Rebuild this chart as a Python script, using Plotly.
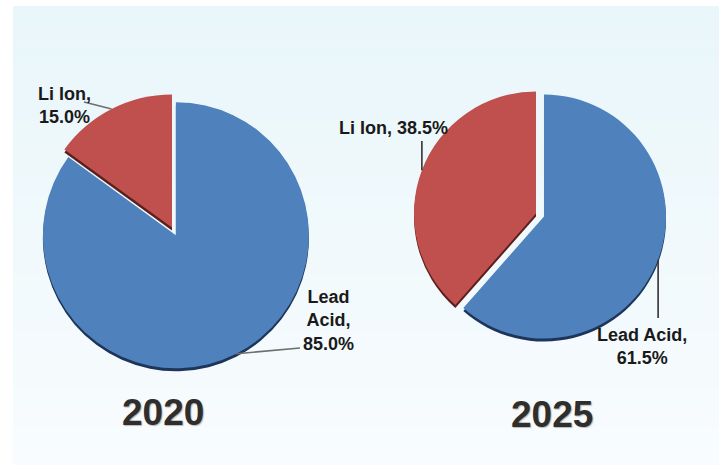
import math
import plotly.graph_objects as go

# ---- data -------------------------------------------------------------
years = ["2020", "2025"]
chemistries = ["Li Ion", "Lead Acid"]
share_2020 = [15.0, 85.0]
share_2025 = [38.5, 61.5]

# ---- styling / layout constants ---------------------------------------
W, H = 719, 465
slice_colors = ["#c0504d", "#4f81bd"]
shadow_colors = ["#5a1f1d", "#1d355a"]
label_font = dict(family="Liberation Sans, Arial, sans-serif", size=18,
                  color="#1a1a1a", weight="bold")

# pie geometry in pixels: centre, radius, pulls per slice
pies = [
    dict(values=share_2020, cx=175.0, cy=233.5, r=133.0, pull=[0.05, 0.015],
         line_color="#6e6e6e",
         labels=[dict(x=64, y=105, text_end=(84, 102)),
                 dict(x=328, y=320, text_end=(300, 348))],
         label_breaks=[True, "two"],
         year_pos=(163, 412)),
    dict(values=share_2025, cx=540.0, cy=215.0, r=122.0, pull=[0.035, 0.035],
         line_color="#333333",
         labels=[dict(x=393, y=128, text_end=(None, 141)),
                 dict(x=642, y=346, text_end=(None, 318))],
         label_breaks=[False, True],
         year_pos=(552, 414)),
]


def px_x(x):
    return x / W


def px_y(y):
    return 1 - y / H


def domain_for(p, dy=0.0):
    half = p["r"] * (1 + max(p["pull"]))
    return dict(x=[px_x(p["cx"] - half), px_x(p["cx"] + half)],
                y=[px_y(p["cy"] + dy + half), px_y(p["cy"] + dy - half)])


def label_text(name, value, mode):
    if mode == "two":
        first, second = name.split(" ", 1)
        return f"{first}<br>{second},<br>{value:.1f}%"
    if mode:
        return f"{name},<br>{value:.1f}%"
    return f"{name}, {value:.1f}%"


fig = go.Figure()

# soft blue panel behind the charts (vertical gradient in bands)
top_rgb = (233, 246, 250)
bot_rgb = (248, 252, 254)
n_bands = 24
panel_top, panel_bot = 6, H
shapes = []
for i in range(n_bands):
    t = i / (n_bands - 1)
    c = tuple(round(a + (b - a) * t) for a, b in zip(top_rgb, bot_rgb))
    y0 = panel_top + (panel_bot - panel_top) * i / n_bands
    y1 = panel_top + (panel_bot - panel_top) * (i + 1) / n_bands
    shapes.append(dict(type="rect", xref="paper", yref="paper", layer="below",
                       x0=px_x(13), x1=1, y0=px_y(y1 + 0.5), y1=px_y(y0),
                       fillcolor=f"rgb{c}", line=dict(width=0)))

annotations = []
for p, year in zip(pies, years):
    # Slices are fed in reverse so that, drawn clockwise from 12 o'clock,
    # Li Ion ends at 12 o'clock and sits on the left.
    rev = slice(None, None, -1)
    for dy, colors in ((3.0, shadow_colors), (0.0, slice_colors)):
        fig.add_trace(go.Pie(labels=chemistries[rev], values=p["values"][rev],
                             sort=False, direction="clockwise", rotation=0,
                             pull=p["pull"][rev], domain=domain_for(p, dy=dy),
                             marker=dict(colors=colors[rev], line=dict(width=0)),
                             textinfo="none",
                             hoverinfo="skip" if dy else "label+percent",
                             showlegend=False))

    total = sum(p["values"])
    cum = 0.0
    for name, v, pull, lab, mode in zip(chemistries, p["values"], p["pull"],
                                        p["labels"], p["label_breaks"]):
        theta = math.radians(360.0 * (cum + v / 2) / total)  # ccw from 12 o'clock
        cum += v
        ux, uy = -math.sin(theta), -math.cos(theta)
        scx = p["cx"] + pull * p["r"] * ux
        scy = p["cy"] + pull * p["r"] * uy
        ax_, ay_ = scx + p["r"] * ux, scy + p["r"] * uy
        ex, ey = lab["text_end"]
        if ex is None:
            ex = ax_
        shapes.append(dict(type="line", xref="paper", yref="paper",
                           x0=px_x(ex), y0=px_y(ey), x1=px_x(ax_), y1=px_y(ay_),
                           line=dict(color=p["line_color"], width=1.6)))
        annotations.append(dict(x=px_x(lab["x"]), y=px_y(lab["y"]),
                                xref="paper", yref="paper", showarrow=False,
                                xanchor="center", yanchor="middle",
                                align="center", text=label_text(name, v, mode),
                                font=label_font))

    yx, yy = p["year_pos"]
    annotations.append(dict(x=px_x(yx), y=px_y(yy), xref="paper", yref="paper",
                            showarrow=False, xanchor="center", yanchor="middle",
                            text=year,
                            font=dict(family="Liberation Sans, Arial, sans-serif",
                                      size=37, color="#2e2e2e", weight="bold",
                                      shadow="1px 1px 1px rgba(120,100,80,0.45)")))

fig.update_layout(width=W, height=H, margin=dict(l=0, r=0, t=0, b=0),
                  paper_bgcolor="white", plot_bgcolor="white",
                  shapes=shapes, annotations=annotations)

fig.write_html("out.html")
